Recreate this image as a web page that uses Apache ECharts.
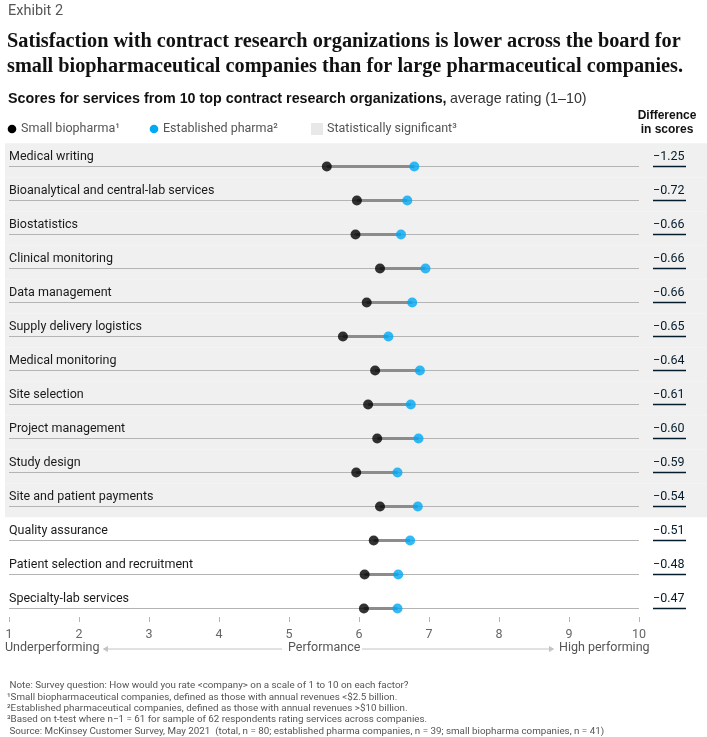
<!DOCTYPE html>
<html><head><meta charset="utf-8">
<script src="https://cdn.jsdelivr.net/npm/echarts@6/dist/echarts.min.js"></script>
<style>html,body{margin:0;padding:0;background:#fff}#c{width:707px;height:737px}</style>
</head><body><div id="c"></div>
<script>
const categories = [
  'Medical writing',
  'Bioanalytical and central-lab services',
  'Biostatistics',
  'Clinical monitoring',
  'Data management',
  'Supply delivery logistics',
  'Medical monitoring',
  'Site selection',
  'Project management',
  'Study design',
  'Site and patient payments',
  'Quality assurance',
  'Patient selection and recruitment',
  'Specialty-lab services'
];
const smallBiopharma    = [5.54, 5.97, 5.95, 6.30, 6.11, 5.77, 6.23, 6.13, 6.26, 5.96, 6.30, 6.21, 6.08, 6.07];
const establishedPharma = [6.79, 6.69, 6.60, 6.95, 6.76, 6.42, 6.87, 6.74, 6.85, 6.55, 6.84, 6.73, 6.56, 6.55];
const differences = ['\u22121.25','\u22120.72','\u22120.66','\u22120.66','\u22120.66','\u22120.65','\u22120.64','\u22120.61','\u22120.60','\u22120.59','\u22120.54','\u22120.51','\u22120.48','\u22120.47'];
const significant = [1,1,1,1,1,1,1,1,1,1,1,0,0,0];
const xTicks = [1,2,3,4,5,6,7,8,9,10];

const NARROW = "Roboto, 'Liberation Sans', sans-serif";
const SANS = "'Liberation Sans', Arial, sans-serif";
const SERIF = "'Liberation Serif', 'Times New Roman', serif";
const NAVY = '#051c2c';
const BLUE = '#00a9f4';

const chart = echarts.init(document.getElementById('c'), null, {renderer: 'canvas'});

const rowData = categories.map((c, i) => [smallBiopharma[i], establishedPharma[i], i]);

chart.setOption({
  animation: false,
  backgroundColor: '#fff',
  grid: {left: 9, right: 68, top: 142.7, height: 474.3, containLabel: false, outerBoundsMode: 'none'},
  xAxis: {
    type: 'value', position: 'bottom', min: xTicks[0], max: xTicks[xTicks.length - 1], interval: 1,
    axisLine: {show: false, onZero: false},
    axisTick: {show: true, length: 5, lineStyle: {color: '#b5b5b5', width: 1}},
    axisLabel: {color: '#666', fontSize: 12.5, fontFamily: NARROW, margin: 11},
    splitLine: {show: false}
  },
  yAxis: {type: 'value', min: -0.7, max: 13.25, inverse: true, show: false},
  series: [
    {
      type: 'custom', name: 'band', z: 0, silent: true,
      data: rowData,
      renderItem(params, api) {
        const i = api.value(2);
        if (!significant[i]) return null;
        const p = api.coord([1, i]);
        const h = api.size([0, 1])[1];
        return {type: 'rect', shape: {x: 5, y: p[1] - h * 0.685, width: api.getWidth() - 5, height: h},
                style: {fill: '#f0f0f0'}};
      }
    },
    {
      type: 'custom', name: 'rows', z: 1, silent: true,
      data: rowData,
      renderItem(params, api) {
        const i = api.value(2);
        const a = api.coord([api.value(0), i]);
        const b = api.coord([api.value(1), i]);
        const l = api.coord([1, i]);
        const r = api.coord([10, i]);
        const y = a[1];
        return {type: 'group', children: [
          {type: 'line', shape: {x1: l[0], y1: y, x2: r[0], y2: y}, style: {stroke: '#b4b4b4', lineWidth: 1}},
          {type: 'line', shape: {x1: a[0], y1: y, x2: b[0], y2: y}, style: {stroke: '#8c8c8c', lineWidth: 3}},
          {type: 'text', x: l[0], y: y - 10, style: {text: categories[i], fill: '#1a1a1a', font: '12.5px ' + NARROW, verticalAlign: 'middle', align: 'left'}},
          {type: 'text', x: r[0] + 14, y: y - 10, style: {text: differences[i], fill: NAVY, font: '12.5px ' + NARROW, verticalAlign: 'middle', align: 'left'}},
          {type: 'line', shape: {x1: r[0] + 14, y1: y, x2: r[0] + 47, y2: y}, style: {stroke: NAVY, lineWidth: 1.5}}
        ]};
      }
    },
    {
      type: 'scatter', name: 'Small biopharma', z: 3, symbolSize: 10,
      itemStyle: {color: '#000'},
      data: smallBiopharma.map((v, i) => [v, i])
    },
    {
      type: 'scatter', name: 'Established pharma', z: 3, symbolSize: 10,
      itemStyle: {color: BLUE},
      data: establishedPharma.map((v, i) => [v, i])
    }
  ],
  graphic: [
    {type: 'text', left: 8, top: 4, style: {text: 'Exhibit 2', fill: '#555', font: '14.5px ' + NARROW}},
    {type: 'text', left: 7, top: 30, style: {text: 'Satisfaction with contract research organizations is lower across the board for\nsmall biopharmaceutical companies than for large pharmaceutical companies.',
      fill: '#111', font: 'bold 20.3px ' + SERIF, lineHeight: 24.5}},
    {type: 'text', left: 8, top: 92, style: {
      text: '{b|Scores for services from 10 top contract research organizations,} {n|average rating (1\u201310)}',
      rich: {b: {fontFamily: SANS, fontWeight: 'bold', fontSize: 14.3, fill: '#111'},
             n: {fontFamily: SANS, fontSize: 14.3, fill: '#333'}}}},
    {type: 'circle', shape: {cx: 12, cy: 129, r: 4.3}, style: {fill: '#000'}},
    {type: 'text', left: 21, top: 122, style: {text: 'Small biopharma\u00b9', fill: '#555', font: '12.5px ' + NARROW}},
    {type: 'circle', shape: {cx: 154, cy: 129, r: 4.3}, style: {fill: BLUE}},
    {type: 'text', left: 163, top: 122, style: {text: 'Established pharma\u00b2', fill: '#555', font: '12.5px ' + NARROW}},
    {type: 'rect', shape: {x: 311, y: 123, width: 12, height: 12}, style: {fill: '#e8e8e8'}},
    {type: 'text', left: 327, top: 122, style: {text: 'Statistically significant\u00b3', fill: '#555', font: '12.5px ' + NARROW}},
    {type: 'text', x: 667, y: 109, style: {text: 'Difference\nin scores', fill: '#111', font: 'bold 12px ' + SANS, align: 'center', lineHeight: 14}},
    {type: 'text', left: 5, top: 641, style: {text: 'Underperforming', fill: '#555', font: '12.5px ' + NARROW}},
    {type: 'line', shape: {x1: 104, y1: 649, x2: 282, y2: 649}, style: {stroke: '#c4c4c4', lineWidth: 1}},
    {type: 'polyline', shape: {points: [[108, 646.5], [103.5, 649], [108, 651.5]]}, style: {fill: '#c4c4c4', stroke: '#c4c4c4', lineWidth: 1}},
    {type: 'text', left: 288, top: 641, style: {text: 'Performance', fill: '#555', font: '12.5px ' + NARROW}},
    {type: 'line', shape: {x1: 362, y1: 649, x2: 553, y2: 649}, style: {stroke: '#c4c4c4', lineWidth: 1}},
    {type: 'polyline', shape: {points: [[549, 646.5], [553.5, 649], [549, 651.5]]}, style: {fill: '#c4c4c4', stroke: '#c4c4c4', lineWidth: 1}},
    {type: 'text', left: 559, top: 641, style: {text: 'High performing', fill: '#555', font: '12.5px ' + NARROW}},
    {type: 'text', left: 7, top: 680, style: {
      text: ' Note: Survey question: How would you rate <company> on a scale of 1 to 10 on each factor?\n\u00b9Small biopharmaceutical companies, defined as those with annual revenues <$2.5 billion.\n\u00b2Established pharmaceutical companies, defined as those with annual revenues >$10 billion.\n\u00b3Based on t-test where n\u22121 = 61 for sample of 62 respondents rating services across companies.\n Source: McKinsey Customer Survey, May 2021  (total, n = 80; established pharma companies, n = 39; small biopharma companies, n = 41)',
      fill: '#555', font: '9.8px ' + NARROW, lineHeight: 11.4}}
  ]
});
</script></body></html>
